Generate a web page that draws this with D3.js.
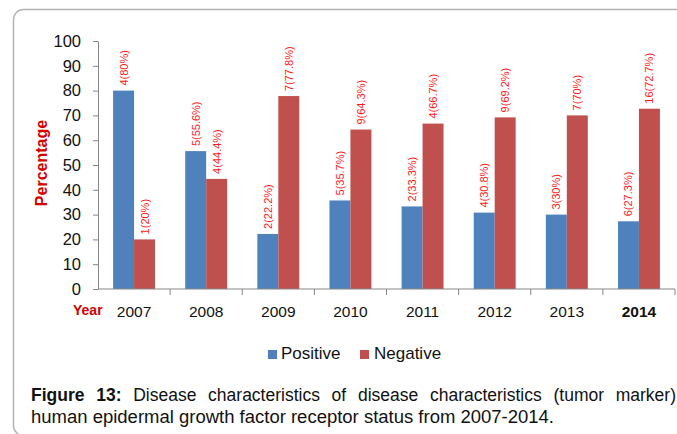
<!DOCTYPE html>
<html>
<head>
<meta charset="utf-8">
<script src="https://cdn.jsdelivr.net/npm/d3@7"></script>
<style>
  html, body { margin: 0; padding: 0; background: #fff; }
  svg { display: block; font-family: "Liberation Sans", Arial, sans-serif; }
</style>
</head>
<body>
<svg id="chart" width="677" height="434"></svg>
<script>
// HER2 status per year: share of positive / negative cases
const years = ["2007", "2008", "2009", "2010", "2011", "2012", "2013", "2014"];
const series = ["Positive", "Negative"];
const positivePct = [80, 55.6, 22.2, 35.7, 33.3, 30.8, 30, 27.3];
const negativePct = [20, 44.4, 77.8, 64.3, 66.7, 69.2, 70, 72.7];
const positiveN = [4, 5, 2, 5, 2, 4, 3, 6];
const negativeN = [1, 4, 7, 9, 4, 9, 7, 16];
const yTicks = [0, 10, 20, 30, 40, 50, 60, 70, 80, 90, 100];
const captionBold = "Figure 13:";
const captionLine1 = " Disease characteristics of disease characteristics (tumor marker)";
const captionLine2 = "human epidermal growth factor receptor status from 2007-2014.";

const colors = { Positive: "#4f81bd", Negative: "#c0504d" };
const labelRed = "#ff1a1a";
const titleRed = "#d40000";
const axisGrey = "#868686";

const rows = years.map((y, i) => ({
  year: y,
  values: [
    { key: "Positive", pct: positivePct[i], n: positiveN[i] },
    { key: "Negative", pct: negativePct[i], n: negativeN[i] }
  ]
}));

const svg = d3.select("#chart");

// figure frame
svg.append("rect")
  .attr("x", 13.5).attr("y", 9.5)
  .attr("width", 700).attr("height", 426)
  .attr("rx", 10).attr("ry", 10)
  .attr("fill", "none")
  .attr("stroke", "#b4b4b4")
  .attr("stroke-width", 1.5);

const plot = { left: 98, right: 675, top: 41, bottom: 289 };

const x0 = d3.scaleBand().domain(years).range([plot.left, plot.right]).paddingInner(0).paddingOuter(0);
const x1 = d3.scaleBand().domain(series).range([0, x0.bandwidth()]).paddingInner(0).paddingOuter(0.72);
const y = d3.scaleLinear().domain([0, 100]).range([plot.bottom, plot.top]);

// bars
const groups = svg.append("g").selectAll("g")
  .data(rows).join("g")
  .attr("transform", d => `translate(${x0(d.year)},0)`);

groups.selectAll("rect")
  .data(d => d.values).join("rect")
  .attr("x", d => x1(d.key))
  .attr("y", d => y(d.pct))
  .attr("width", x1.bandwidth())
  .attr("height", d => y(0) - y(d.pct))
  .attr("fill", d => colors[d.key]);

// value labels, rotated above each bar
groups.selectAll("text")
  .data(d => d.values).join("text")
  .attr("transform", d => `translate(${x1(d.key) + x1.bandwidth() / 2},${y(d.pct) - 5}) rotate(-90)`)
  .attr("dy", "0.36em")
  .attr("text-anchor", "start")
  .attr("font-size", 11)
  .attr("fill", labelRed)
  .text(d => `${d.n}(${d.pct}%)`);

// y axis
const yAxis = d3.axisLeft(y).tickValues(yTicks).tickSize(5).tickSizeOuter(0).tickPadding(12);
const gy = svg.append("g").attr("transform", `translate(${plot.left},0)`).call(yAxis);
gy.select(".domain").attr("stroke", axisGrey);
gy.selectAll(".tick line").attr("stroke", axisGrey);
gy.selectAll(".tick text")
  .attr("font-size", 16.5)
  .attr("font-family", "'Liberation Sans', Arial, sans-serif")
  .attr("fill", "#111");

// x axis: line with separators at band boundaries
const gx = svg.append("g");
gx.append("line")
  .attr("x1", plot.left).attr("x2", plot.right)
  .attr("y1", plot.bottom).attr("y2", plot.bottom)
  .attr("stroke", axisGrey);
const boundaries = years.map(d => x0(d)).concat([x0(years[years.length - 1]) + x0.bandwidth()]);
gx.selectAll("line.sep")
  .data(boundaries.slice(1)).join("line")
  .attr("class", "sep")
  .attr("x1", d => d).attr("x2", d => d)
  .attr("y1", plot.bottom).attr("y2", plot.bottom + 6)
  .attr("stroke", axisGrey);

gx.selectAll("text.year")
  .data(years).join("text")
  .attr("class", "year")
  .attr("x", d => x0(d) + x0.bandwidth() / 2)
  .attr("y", 317)
  .attr("text-anchor", "middle")
  .attr("font-size", 15.5)
  .attr("font-weight", d => d === "2014" ? "bold" : "normal")
  .attr("fill", "#111")
  .text(d => d);

// axis titles
svg.append("text")
  .attr("x", 73).attr("y", 315)
  .attr("font-size", 14).attr("font-weight", "bold")
  .attr("fill", titleRed)
  .text("Year");

svg.append("text")
  .attr("transform", "translate(41,163) rotate(-90)")
  .attr("text-anchor", "middle")
  .attr("dy", "0.36em")
  .attr("font-size", 16).attr("font-weight", "bold")
  .attr("fill", titleRed)
  .text("Percentage");

// legend
const legend = svg.append("g");
const legendItems = [
  { key: "Positive", sx: 268, tx: 281 },
  { key: "Negative", sx: 360, tx: 374 }
];
legend.selectAll("rect")
  .data(legendItems).join("rect")
  .attr("x", d => d.sx).attr("y", 350)
  .attr("width", 9).attr("height", 9)
  .attr("fill", d => colors[d.key]);
legend.selectAll("text")
  .data(legendItems).join("text")
  .attr("x", d => d.tx).attr("y", 359)
  .attr("font-size", 17)
  .attr("fill", "#111")
  .text(d => d.key);

// caption, first line justified to the frame width
const capFont = 17.5;
const cap1 = svg.append("text")
  .attr("x", 31).attr("y", 401)
  .attr("font-family", "'Liberation Sans', Arial, sans-serif")
  .attr("font-size", capFont)
  .attr("fill", "#111");
cap1.append("tspan").attr("font-weight", "bold").text(captionBold);
cap1.append("tspan").text(captionLine1);
const natural = cap1.node().getComputedTextLength();
const spaces = (captionBold + captionLine1).split(" ").length - 1;
const target = 676 - 31;
if (natural < target) cap1.attr("word-spacing", (target - natural) / spaces);

svg.append("text")
  .attr("x", 31).attr("y", 423)
  .attr("font-family", "'Liberation Sans', Arial, sans-serif")
  .attr("font-size", capFont)
  .attr("textLength", 523)
  .attr("lengthAdjust", "spacingAndGlyphs")
  .attr("fill", "#111")
  .text(captionLine2);
</script>
</body>
</html>
